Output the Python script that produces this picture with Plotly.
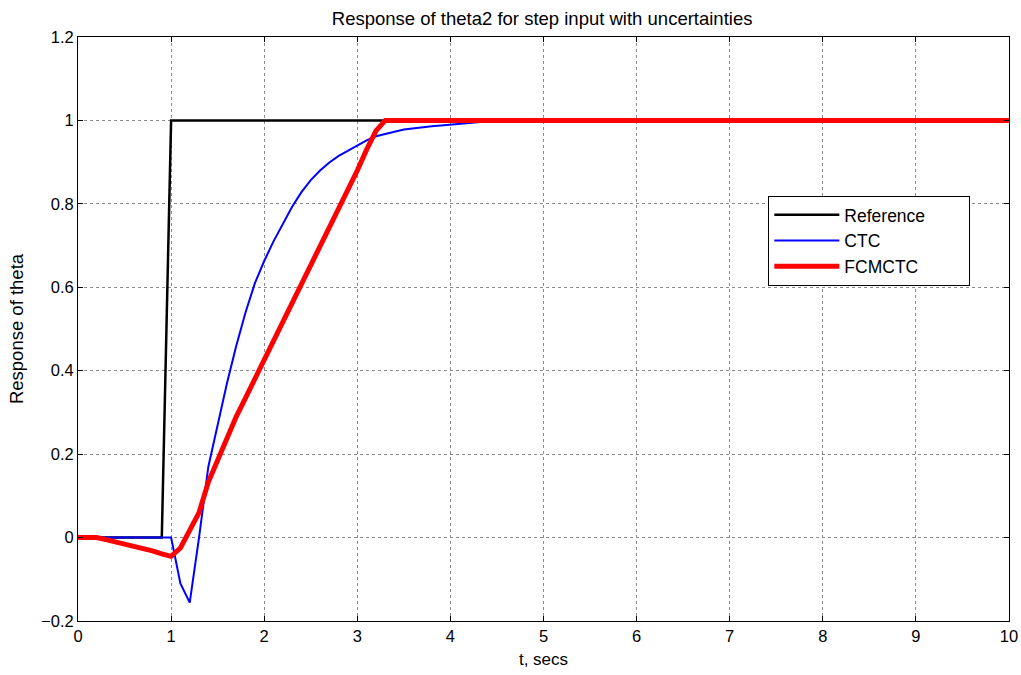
import plotly.graph_objects as go

# Time samples (s)
t_ref = [0, 0.9, 1.0, 10]
ref_vals = [0, 0, 1, 1]

t_ctc = [0, 1.0, 1.1, 1.2, 1.3, 1.4, 1.5, 1.6, 1.7, 1.8, 1.9, 2.0, 2.1, 2.2, 2.3, 2.4,
         2.5, 2.6, 2.7, 2.8, 2.9, 3.0, 3.1, 3.2, 3.3, 3.4, 3.5, 3.6, 3.7, 3.8, 3.9,
         4.0, 4.1, 4.2, 4.3, 4.4, 4.5, 10]
ctc_vals = [0, 0, -0.11, -0.156, 0.0, 0.17, 0.27, 0.37, 0.46, 0.54, 0.61, 0.663, 0.71,
            0.753, 0.793, 0.828, 0.857, 0.88, 0.899, 0.915, 0.928, 0.94, 0.952, 0.962,
            0.968, 0.973, 0.978, 0.981, 0.984, 0.986, 0.988, 0.99, 0.992, 0.994, 0.996,
            0.998, 1.0, 1.0]

t_fcm = [0, 0.1, 0.2, 0.3, 0.4, 0.5, 0.6, 0.7, 0.8, 0.9, 1.0, 1.1, 1.2, 1.3, 1.4, 1.5,
         1.6, 1.7, 1.8, 1.9, 2.0, 2.1, 2.2, 2.3, 2.4, 2.5, 2.6, 2.7, 2.8, 2.9, 3.0,
         3.1, 3.2, 3.3, 10]
fcm_vals = [0, 0, 0, -0.005, -0.01, -0.015, -0.02, -0.026, -0.032, -0.039, -0.045,
            -0.025, 0.015, 0.06, 0.133, 0.185, 0.24, 0.29, 0.335, 0.38, 0.425, 0.47,
            0.517, 0.565, 0.61, 0.655, 0.70, 0.745, 0.79, 0.835, 0.88, 0.93, 0.975,
            1.0, 1.0]

FONT = "Liberation Sans, Arial, sans-serif"
PAD = "\u00a0" * 8

fig = go.Figure()
fig.add_trace(go.Scatter(x=t_ref, y=ref_vals, mode="lines", name="Reference" + PAD,
                         legendgroup="a", line=dict(color="black", width=2.5)))
fig.add_trace(go.Scatter(x=t_ctc, y=ctc_vals, mode="lines", name="CTC",
                         legendgroup="b", line=dict(color="#0000ff", width=2)))
fig.add_trace(go.Scatter(x=t_fcm, y=fcm_vals, mode="lines", name="FCMCTC",
                         legendgroup="c", line=dict(color="#ff0000", width=5)))

axis_common = dict(showline=True, linecolor="black", linewidth=1, mirror="ticks",
                   ticks="inside", ticklen=5, tickcolor="black", automargin=False,
                   showgrid=True, gridcolor="#8c8c8c", griddash="dot", gridwidth=1,
                   zeroline=False, tickfont=dict(family=FONT, size=16.5, color="black"))

fig.update_xaxes(range=[0, 10], dtick=1, tick0=0,
                 title=dict(text="t, secs", font=dict(family=FONT, size=17, color="black"),
                            standoff=9),
                 **axis_common)
fig.update_yaxes(range=[-0.2, 1.2], dtick=0.2, tick0=-0.2,
                 title=dict(text="Response of theta", font=dict(family=FONT, size=18.5, color="black"),
                            standoff=12),
                 **axis_common)

fig.update_layout(
    width=1021, height=675,
    margin=dict(l=78, r=12, t=37, b=54, autoexpand=False),
    paper_bgcolor="white", plot_bgcolor="white",
    title=dict(text="Response of theta2 for step input with uncertainties",
               x=0.531, xanchor="center", y=0.982, yanchor="top",
               font=dict(family=FONT, size=18.5, color="black")),
    legend=dict(x=0.7415, y=0.728, xanchor="left", yanchor="top",
                bgcolor="white", bordercolor="black", borderwidth=1,
                font=dict(family=FONT, size=17.5, color="black"),
                itemwidth=65, tracegroupgap=0),
    showlegend=True,
)

fig.write_html("out.html")
